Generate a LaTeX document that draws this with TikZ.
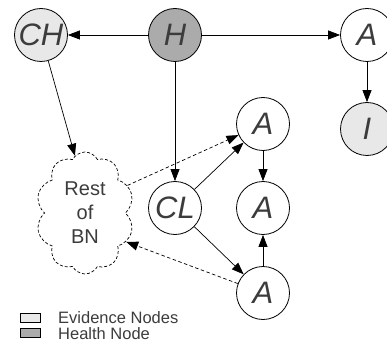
\documentclass[tikz,border=0pt]{standalone}
\usepackage{fontspec}
\setmainfont{Liberation Sans}
\usetikzlibrary{shapes.symbols,arrows.meta}
\definecolor{evid}{HTML}{E8E8E8}
\definecolor{health}{HTML}{ABABAB}
\definecolor{txt}{HTML}{3C3C3C}
\begin{document}
\begin{tikzpicture}[x=1pt,y=-1pt,
  bn/.style={circle,draw,line width=0.8pt,minimum size=53pt,inner sep=0pt,font=\fontsize{31}{31}\selectfont\itshape,text=txt,fill=white},
  ev/.style={bn,fill=evid},
  hn/.style={bn,fill=health},
  arr/.style={-{Triangle[length=12pt,width=9pt]},line width=0.7pt},
  darr/.style={arr,dash pattern=on 3.5pt off 2.5pt},
  legbox/.style={draw,line width=0.6pt,minimum width=20pt,minimum height=9pt,inner sep=0pt},
  legtxt/.style={anchor=west,font=\fontsize{16.5}{17}\selectfont,text=txt,inner sep=0pt}]
\useasboundingbox (0,0) rectangle (387,347);
\node[ev] (CH) at (41,35) {CH};
\node[hn] (H) at (175,35) {H};
\node[bn] (AT) at (367,35) {A};
\node[ev] (I) at (367,129) {I};
\node[bn] (A1) at (263,124) {A};
\node[bn] (A2) at (263,208) {A};
\node[bn] (A3) at (263,293) {A};
\node[bn] (CL) at (175,208) {CL};
\node[cloud, cloud puffs=10, cloud puff arc=125, cloud ignores aspect, minimum width=98pt, minimum height=122pt, draw, dash pattern=on 3pt off 2pt, line width=0.7pt, align=center, font=\fontsize{20}{24}\selectfont, text=txt] (bn) at (85,213) {Rest\\of\\BN};
\draw[arr] (H) -- (CH);
\draw[arr] (H) -- (AT);
\draw[arr] (AT) -- (I);
\draw[arr] (H) -- (CL);
\draw[arr] (CH) -- (bn.100);
\draw[arr] (CL) -- (A1);
\draw[arr] (CL) -- (A3);
\draw[arr] (A1) -- (A2);
\draw[arr] (A3) -- (A2);
\draw[darr] (bn.33) -- (A1);
\draw[darr] (A3) -- (bn.-35);
\node[legbox,fill=evid] (l1) at (30,317.5) {};
\node[legbox,fill=health] (l2) at (30,333) {};
\node[legtxt] (t1) at (58,318) {Evidence Nodes};
\node[legtxt] (t2) at (58,334) {Health Node};
\end{tikzpicture}
\end{document}
